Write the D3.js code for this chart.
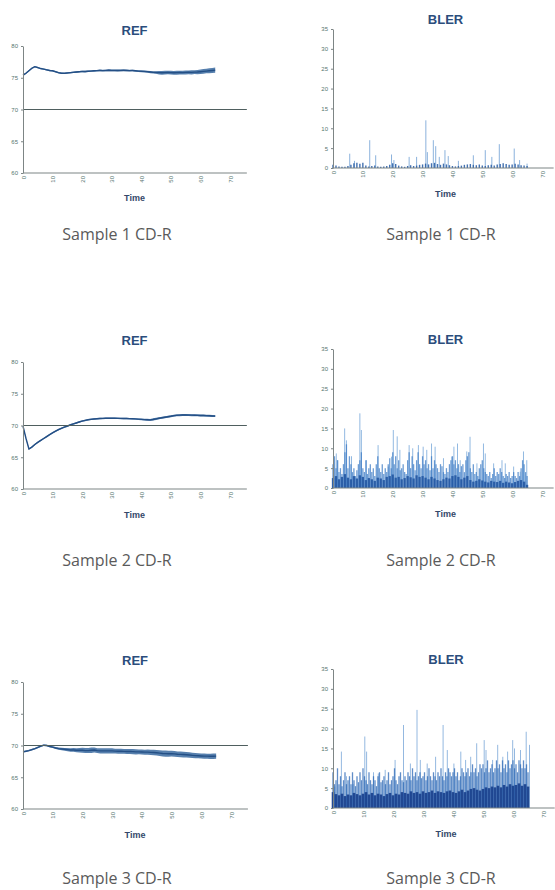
<!DOCTYPE html>
<html>
<head>
<meta charset="utf-8">
<script src="https://cdn.jsdelivr.net/npm/d3@7"></script>
<style>
  body { margin: 0; background: #fff; }
  svg text { font-family: "Liberation Sans", Arial, sans-serif; }
  .caption { font-family: "Open Sans", "Noto Sans", sans-serif !important; }
</style>
</head>
<body>
<div id="chart"></div>
<script>
// ---- data ----
const timeTicks = [0, 10, 20, 30, 40, 50, 60, 70];
const refTicks = [60, 65, 70, 75, 80];
const blerTicks = [0, 5, 10, 15, 20, 25, 30, 35];
const refLimit = 70;
const captions = ["Sample 1 CD-R", "Sample 2 CD-R", "Sample 3 CD-R"];

// REF sampled every 1 time unit (t = 0..65), band half width alongside
const ref1 = [75.4,75.7,76.1,76.5,76.75,76.6,76.45,76.35,76.25,76.15,
  76.1,75.95,75.8,75.72,75.7,75.75,75.8,75.85,75.9,75.95,
  76.0,75.98,76.02,76.05,76.1,76.12,76.15,76.13,76.15,76.18,
  76.15,76.16,76.14,76.15,76.17,76.15,76.12,76.14,76.1,76.05,
  76.02,76.0,75.95,75.9,75.85,75.82,75.8,75.78,75.8,75.82,
  75.8,75.78,75.8,75.82,75.8,75.84,75.86,75.85,75.88,75.9,
  75.95,76.0,76.05,76.1,76.15,76.2];
const ref1Spread = [0.12,0.12,0.12,0.12,0.12,0.12,0.1,0.1,0.12,0.12,
  0.1,0.1,0.12,0.12,0.1,0.1,0.12,0.12,0.14,0.12,
  0.12,0.14,0.12,0.12,0.14,0.12,0.14,0.14,0.12,0.14,
  0.14,0.12,0.14,0.14,0.12,0.14,0.14,0.12,0.14,0.14,
  0.14,0.16,0.14,0.18,0.18,0.2,0.28,0.3,0.3,0.28,
  0.3,0.3,0.32,0.3,0.3,0.32,0.3,0.32,0.3,0.34,
  0.34,0.36,0.36,0.38,0.4,0.4];

const ref2 = [69.9,68.0,66.3,66.6,67.0,67.35,67.65,67.95,68.25,68.55,
  68.85,69.1,69.35,69.55,69.75,69.9,70.1,70.25,70.4,70.55,
  70.7,70.8,70.9,70.97,71.03,71.07,71.1,71.12,71.14,71.15,
  71.15,71.14,71.13,71.12,71.1,71.1,71.08,71.06,71.04,71.0,
  70.97,70.93,70.9,70.88,70.95,71.05,71.15,71.22,71.3,71.38,
  71.45,71.55,71.6,71.63,71.65,71.65,71.64,71.63,71.62,71.6,
  71.58,71.57,71.55,71.53,71.5,71.48];
const ref2Spread = [0.12,0.12,0.12,0.12,0.12,0.12,0.12,0.12,0.12,0.12,
  0.12,0.12,0.12,0.12,0.12,0.12,0.12,0.12,0.12,0.12,
  0.12,0.12,0.12,0.12,0.12,0.12,0.12,0.12,0.12,0.12,
  0.12,0.12,0.12,0.12,0.12,0.12,0.12,0.12,0.12,0.12,
  0.14,0.14,0.16,0.16,0.18,0.18,0.16,0.16,0.16,0.16,
  0.16,0.16,0.16,0.16,0.16,0.16,0.16,0.16,0.16,0.16,
  0.16,0.16,0.16,0.16,0.16,0.16];

const ref3 = [69.0,69.1,69.2,69.35,69.5,69.7,69.9,70.05,70.0,69.85,
  69.75,69.6,69.5,69.45,69.4,69.35,69.3,69.3,69.25,69.25,
  69.25,69.2,69.2,69.25,69.3,69.2,69.15,69.15,69.15,69.15,
  69.15,69.12,69.1,69.1,69.08,69.06,69.05,69.03,69.0,69.0,
  68.98,68.95,68.95,68.92,68.9,68.85,68.8,68.75,68.72,68.7,
  68.72,68.68,68.62,68.6,68.58,68.55,68.5,68.45,68.4,68.38,
  68.35,68.33,68.32,68.3,68.3,68.32];
const ref3Spread = [0.12,0.12,0.12,0.12,0.12,0.12,0.12,0.12,0.12,0.12,
  0.14,0.16,0.18,0.2,0.22,0.25,0.28,0.3,0.32,0.35,
  0.38,0.4,0.4,0.42,0.4,0.38,0.4,0.4,0.42,0.4,
  0.4,0.38,0.4,0.4,0.38,0.4,0.38,0.4,0.4,0.38,
  0.4,0.4,0.42,0.4,0.42,0.44,0.45,0.48,0.5,0.48,
  0.46,0.45,0.45,0.44,0.45,0.44,0.42,0.42,0.4,0.4,
  0.4,0.42,0.4,0.42,0.44,0.42];

// BLER: dense core every 1 unit, hits every 0.5 unit, tall spikes as [time, value]
const bler1Core = [0.8,0.6,0.4,0.3,0.3,0.5,0.8,1.2,1.3,1.1,
  1.3,0.6,0.4,0.5,0.6,0.4,0.3,0.4,0.5,0.8,
  1.2,1.0,0.6,0.4,0.3,0.5,0.7,0.5,0.6,0.8,
  0.9,1.1,0.9,1.2,1.3,1.0,0.8,1.1,0.9,0.7,
  0.5,0.4,0.5,0.6,0.8,0.9,1.0,0.8,0.7,0.9,
  0.6,0.5,0.7,0.8,0.6,0.9,1.0,1.2,1.0,0.8,
  0.9,1.1,0.9,0.7,0.6,0.5];
const bler1Hits = [];
const bler1Spikes = [[5.6,3.6],[7.2,1.8],[12.3,7],[14.3,3.2],[19.6,3.4],[20.4,2],[25.5,2.8],
  [28,2.8],[31.1,12],[31.6,4],[33.6,7],[34.4,5.5],[35.6,2.8],[37.5,4.5],[38.6,3],[42,1.8],
  [47,3.2],[51,4.5],[53.2,2.8],[55.7,6],[60.7,4.9],[62.5,2],[65,1.1]];

const bler2Core = [2.5,3.0,2.2,2.8,3.5,2.6,2.2,3.0,2.4,3.2,
  2.8,2.0,2.5,2.2,1.8,2.6,2.4,2.0,2.8,3.0,
  3.4,2.6,2.8,2.2,2.5,3.0,2.7,2.4,3.2,2.8,
  3.0,2.6,2.2,2.8,2.4,2.0,1.8,2.2,2.6,2.4,
  3.0,3.2,2.8,2.2,2.6,3.0,2.0,1.6,1.8,2.2,
  1.9,1.6,1.4,1.8,1.6,1.5,1.8,1.3,1.6,1.4,
  1.2,1.5,1.8,2.0,1.6,0.8];
const bler2Hits = [6,8,5,7,4,5,3.5,6,9,11,
  5,8,6,4,5,3,4.5,6,7,9,
  5,4,7,3.5,5,6,4,5,3,6,
  8,5,4,6,3.5,5,4,6,7.5,5,
  9,6,8,5,7,4.5,5,6,4,3.5,
  7,9,5,8,6,4.5,7,9,6,5,
  8,6,7,5,6,4.5,8,5,7,6,
  5,4,6,5.5,4,3.5,5,4,6,7,
  8,6,7,5,6,4,5.5,6,4,7,
  8,9,5,4,6,3.5,4,3,5,6,
  7,5,4,3.5,3,4,2.5,3.5,5,3,
  4,3.5,5,4,3,2.5,3.5,3,4,2.5,
  3,4,3,2.5,4,3,5,7,6,4,
  3];
const bler2Spikes = [[1.1,8.7],[1.6,7],[3.9,15],[4.5,12],[6.2,8],[9,18.8],[9.5,14.6],[11.2,7],
  [15.1,10.8],[18.5,5.4],[19.6,7.9],[20.2,14.6],[21.5,13],[22.4,9.6],[25.5,10.8],[26.7,10],
  [28.6,10.8],[30.2,10.4],[31.4,9.6],[33,11.2],[34.2,10.4],[37,7.5],[39.8,7.9],[40.5,10.4],
  [41.7,11.2],[42.6,7],[44.8,9.2],[45.9,12.9],[48.2,6.2],[50.4,11.2],[51,8.7],[53.8,6.2],
  [56.6,7],[57.7,6.2],[60.5,5.4],[62.7,4.1],[63.8,9.2],[64.9,7]];

const bler3Core = [4,3.5,3.2,3.6,3,3.4,3.2,3.8,3.5,3.2,
  3.6,4,3.4,3.8,3.2,3.6,3.4,3,3.5,3.8,
  3.2,3.6,3.4,4,3.8,3.6,4.2,3.8,4,3.6,
  4.2,3.8,4,4.4,3.8,4.2,4,3.8,4.2,4.4,
  4,3.8,4.2,4.6,4,4.4,4.8,5,4.6,4.4,
  4.8,5.2,5,5.4,5.2,5.6,5.2,5.8,5.4,6,
  5.6,5.8,6.2,5.6,6,5.4];
const bler3Hits = [9,6,7,10,6,8,5.5,7,9,6,
  7,8,6,9,7,5.5,8,6.5,9,7,
  10,8,7,6,9,7,6,8,7,5.5,
  8,9,6.5,7,8,6,7,9,6,7,
  8,10,7,6,8,9,7,6.5,8,7,
  9,8,7,10,8,9,7,8,9,7.5,
  8,9,7,8,10,8,7,9,8,7,
  9,8,10,8,7,9,8,10,9,8,
  9,10,8,9,7,8,10,9,8,9,
  10,8,9,11,9,10,8,9,11,10,
  11,9,10,12,9,10,11,9,10,12,
  10,11,9,12,10,11,9,12,10,11,
  12,10,11,9,12,11,10,12,10,11,
  9];
const bler3Spikes = [[0.6,5.4],[2.8,14.2],[4.5,8],[6.7,6],[10.6,18],[11.2,14.2],[13.5,9],
  [15.1,8.7],[17.4,9.6],[20.7,12.1],[23.5,20.9],[25.8,11.2],[28,24.7],[29.1,12.1],[31.4,11.2],
  [34.2,12.9],[36.7,20.9],[38.1,14.6],[40.3,11.2],[42.6,14.2],[44.2,12.1],[45.9,12.9],
  [47.9,16.3],[50.4,17.1],[51,14.6],[53.2,12.1],[54.9,15.9],[56.6,12.9],[58.2,14.2],
  [59.9,17.1],[60.5,15],[62.5,14.6],[64.4,19.2],[65.5,15.9]];

// ---- layout ----
const width = 555, height = 890;
const svg = d3.select("#chart").append("svg")
  .attr("width", width).attr("height", height);

const panels = [
  {type: "ref", series: ref1, spread: ref1Spread, x0: 23, x1: 230, yTop: 46, yBot: 173, titleY: 35, timeY: 201},
  {type: "bler", core: bler1Core, hits: bler1Hits, spikes: bler1Spikes, x0: 333, x1: 542, yTop: 29, yBot: 168, titleY: 24, timeY: 197},
  {type: "ref", series: ref2, spread: ref2Spread, x0: 23, x1: 230, yTop: 362, yBot: 489, titleY: 345, timeY: 518},
  {type: "bler", core: bler2Core, hits: bler2Hits, spikes: bler2Spikes, x0: 333, x1: 542, yTop: 349, yBot: 488, titleY: 344, timeY: 517},
  {type: "ref", series: ref3, spread: ref3Spread, x0: 23, x1: 231, yTop: 682, yBot: 809, titleY: 665, timeY: 838},
  {type: "bler", core: bler3Core, hits: bler3Hits, spikes: bler3Spikes, x0: 333, x1: 543, yTop: 669, yBot: 808, titleY: 664, timeY: 837}
];

const blerColors = [
  {core: "#2f62a8", coreW: 1.4, hits: "#3f78bf", spike: "#7ea9d8"},
  {core: "#2357a3", coreW: 2.3, hits: "#3d7cc6", spike: "#86b1de"},
  {core: "#173f8c", coreW: 2.6, hits: "#2b68b6", spike: "#88b0dc"}
];

panels.forEach((p, i) => drawPanel(p, Math.floor(i / 2)));

function drawPanel(p, row) {
  const g = svg.append("g");
  const isRef = p.type === "ref";
  const x = d3.scaleLinear().domain([0, 70]).range([p.x0, p.x1]);
  const y = d3.scaleLinear()
    .domain(isRef ? [60, 80] : [0, 35])
    .range([p.yBot, p.yTop]);
  const xEnd = isRef ? 75.7 : 73.9;
  const cx = (p.x0 + p.x1) / 2 + 8;

  // 标题
  g.append("text")
    .attr("x", cx).attr("y", p.titleY)
    .attr("text-anchor", "middle")
    .style("font-size", "13px").style("font-weight", "bold")
    .style("fill", "#2b4d7c")
    .text(isRef ? "REF" : "BLER");

  // 数据
  if (isRef) {
    const pts = p.series.map((v, k) => ({t: k, v: v, s: p.spread[k]}));
    g.append("path")
      .datum(pts)
      .attr("fill", "#3a6aa0")
      .attr("opacity", 0.85)
      .attr("d", d3.area().x(d => x(d.t)).y0(d => y(d.v - d.s)).y1(d => y(d.v + d.s)));
    g.append("path")
      .datum(pts)
      .attr("fill", "none")
      .attr("stroke", "#244f85")
      .attr("stroke-width", 1.4)
      .attr("d", d3.line().x(d => x(d.t)).y(d => y(d.v)));
  } else {
    const c = blerColors[row];
    g.selectAll(".spike")
      .data(p.spikes)
      .join("line")
      .attr("x1", d => x(d[0])).attr("x2", d => x(d[0]))
      .attr("y1", y(0)).attr("y2", d => y(d[1]))
      .attr("stroke", c.spike).attr("stroke-width", 0.9);
    g.selectAll(".hit")
      .data(p.hits)
      .join("line")
      .attr("x1", (d, k) => x(k * 0.5)).attr("x2", (d, k) => x(k * 0.5))
      .attr("y1", y(0)).attr("y2", d => y(d))
      .attr("stroke", c.hits).attr("stroke-width", 1.3).attr("opacity", 0.75);
    g.selectAll(".core")
      .data(p.core)
      .join("line")
      .attr("x1", (d, k) => x(k)).attr("x2", (d, k) => x(k))
      .attr("y1", y(0)).attr("y2", d => y(d))
      .attr("stroke", c.core).attr("stroke-width", c.coreW).attr("opacity", 0.9);
  }

  // 参考线
  if (isRef) {
    g.append("line")
      .attr("x1", x(0)).attr("x2", x(xEnd))
      .attr("y1", y(refLimit)).attr("y2", y(refLimit))
      .attr("stroke", "#4f5f5f").attr("stroke-width", 1);
  }

  // 坐标轴
  const yAxis = g.append("g")
    .attr("transform", `translate(${x(0)},0)`)
    .call(d3.axisLeft(y).tickValues(isRef ? refTicks : blerTicks).tickSize(2).tickSizeOuter(0).tickPadding(3));
  yAxis.select(".domain").attr("stroke", "#7d8585");
  yAxis.selectAll(".tick line").attr("stroke", "#7d8585");
  yAxis.selectAll("text").style("font-size", "6px").style("fill", "#557570").style("font-family", "Liberation Sans, Arial, sans-serif");

  g.append("line")
    .attr("x1", x(0)).attr("x2", x(xEnd))
    .attr("y1", y.range()[0]).attr("y2", y.range()[0])
    .attr("stroke", "#7d8585").attr("stroke-width", 1);

  const xAxis = g.append("g")
    .attr("transform", `translate(0,${y.range()[0]})`)
    .call(d3.axisBottom(x).tickValues(timeTicks).tickSize(0));
  xAxis.select(".domain").remove();
  xAxis.selectAll("text")
    .attr("transform", "rotate(-90)")
    .attr("x", -3).attr("y", 0).attr("dy", "0.35em")
    .attr("text-anchor", "end")
    .style("font-size", "6px").style("fill", "#557570")
    .style("font-family", "Liberation Sans, Arial, sans-serif");

  g.append("text")
    .attr("x", cx).attr("y", p.timeY)
    .attr("text-anchor", "middle")
    .style("font-size", "9px").style("font-weight", "bold")
    .style("fill", "#34486a")
    .text("Time");
}

// 说明文字
const captionY = [240, 566, 884];
captionY.forEach((cy, i) => {
  [117, 441].forEach(cxp => {
    svg.append("text")
      .attr("class", "caption")
      .attr("x", cxp).attr("y", cy)
      .attr("text-anchor", "middle")
      .style("font-size", "16px")
      .style("fill", "#5a5a5a")
      .text(captions[i]);
  });
});
</script>
</body>
</html>
